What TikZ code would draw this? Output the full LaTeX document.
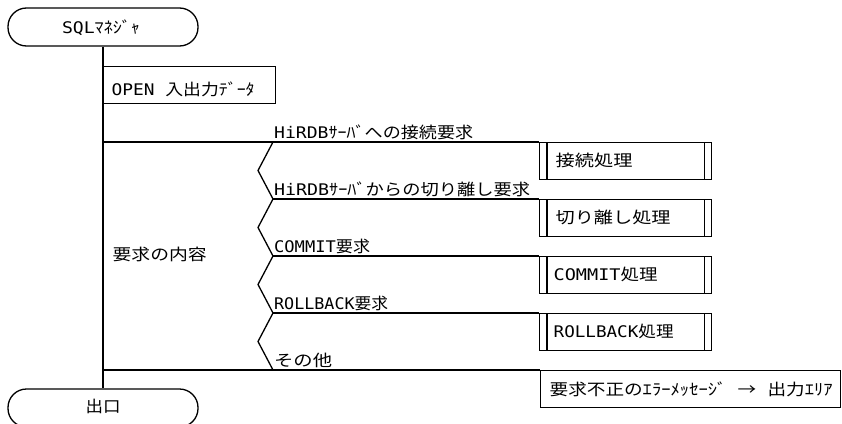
\documentclass[tikz,border=0pt]{standalone}
\usepackage{fontspec}
\usepackage{graphicx}
\newfontfamily\jpf{Noto Sans CJK JP}
\newfontfamily\laf{DejaVu Sans Mono}
\newcommand\La[1]{{\laf\fontsize{16}{18}\selectfont #1}}
\newcommand\Fw[2]{\resizebox{#1pt}{\height}{#2}}
\begin{document}
\begin{tikzpicture}[x=1pt,y=-1pt,line width=1.3pt,
  every node/.style={font=\jpf\fontsize{16}{19}\selectfont},
  term/.style={draw,rounded corners=18.5pt,minimum width=190pt,minimum height=38pt,inner sep=0pt},
  box/.style={draw,anchor=north west,minimum height=37pt,inner sep=0pt},
  proc/.style={box,minimum width=172pt},
  txt/.style={anchor=base west,inner sep=0pt}]
\useasboundingbox (0,0) rectangle (842,423);
\clip (0,0) rectangle (842,423);
% terminals
\node[term] (start) at (103,27) {};
\node[txt,anchor=base] (starttxt) at (101,33) {\Fw{78}{\La{SQL}ﾏﾈｼﾞｬ}};
\node[term] (stop) at (103,408) {};
\node[txt,anchor=base] (stoptxt) at (103,412.5) {\Fw{35}{出口}};
\draw (start.south) -- (stop.north);
% open
\node[box,minimum width=172pt] (open) at (103,66) {};
\node[txt] (opentxt) at (111,95.5) {\Fw{143}{\La{OPEN\ }入出力ﾃﾞｰﾀ}};
% branch coordinates
\coordinate (m1) at (103,142);
\coordinate (m2) at (103,370);
\coordinate (b0) at (273,142);
\coordinate (a1) at (258,170.5);
\coordinate (b1) at (273,199);
\coordinate (a2) at (258,227.5);
\coordinate (b2) at (273,256);
\coordinate (a3) at (258,284.5);
\coordinate (b3) at (273,313);
\coordinate (a4) at (258,341.5);
\coordinate (b4) at (273,370);
% process boxes
\node[proc] (p1) at (539,142) {};
\node[proc] (p2) at (539,199) {};
\node[proc] (p3) at (539,256) {};
\node[proc] (p4) at (539,313) {};
\foreach \p in {p1,p2,p3,p4}{
  \draw ([xshift=8pt]\p.north west) -- ([xshift=8pt]\p.south west);
  \draw ([xshift=-8pt]\p.north east) -- ([xshift=-8pt]\p.south east);
}
\node[box,minimum width=300pt] (err) at (540,370) {};
% connectors
\draw (m1) -- (p1.north west);
\draw (b1) -- (p2.north west);
\draw (b2) -- (p3.north west);
\draw (b3) -- (p4.north west);
\draw (m2) -- (err.north west);
\draw (b0) -- (a1) -- (b1) -- (a2) -- (b2) -- (a3) -- (b3) -- (a4) -- (b4);
% labels
\node[txt] (l0) at (273.5,138) {\Fw{199}{\La{HiRDB}ｻｰﾊﾞへの接続要求}};
\node[txt] (l1) at (273.5,195) {\Fw{256}{\La{HiRDB}ｻｰﾊﾞからの切り離し要求}};
\node[txt] (l2) at (273.5,252) {\Fw{96}{\La{COMMIT}要求}};
\node[txt] (l3) at (273.5,309) {\Fw{114}{\La{ROLLBACK}要求}};
\node[txt] (l4) at (273.5,366) {\Fw{58}{その他}};
\node[txt] (req) at (112,260.5) {\Fw{94}{要求の内容}};
\node[txt] (t1) at (555,166) {\Fw{77}{接続処理}};
\node[txt] (t2) at (555,223) {\Fw{115}{切り離し処理}};
\node[txt] (t3) at (553,280) {\Fw{104}{\La{COMMIT}処理}};
\node[txt] (t4) at (553,337) {\Fw{120}{\La{ROLLBACK}処理}};
\node[txt] (te) at (549,395) {\Fw{283}{要求不正のｴﾗｰﾒｯｾｰｼﾞ\La{\ }→\La{\ }出力ｴﾘｱ}};
\end{tikzpicture}
\end{document}
